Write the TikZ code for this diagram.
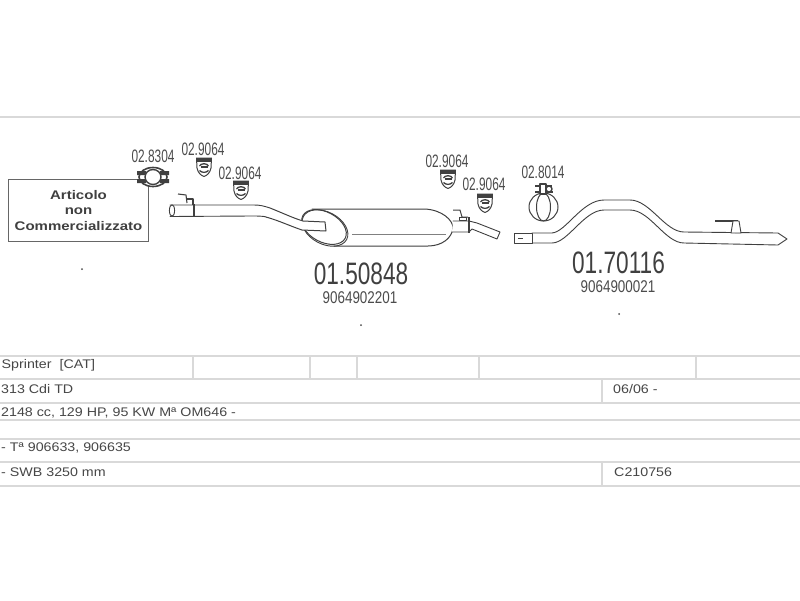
\documentclass[tikz,border=0pt]{standalone}
\usepackage{fontspec}
\setmainfont{Liberation Sans}
\definecolor{ink}{gray}{0.25}
\definecolor{rulec}{gray}{0.85}
\tikzset{
  tbl/.style={draw=rulec,line width=1.4pt},
  pipe/.style={draw=ink,line width=0.9pt,line join=round,line cap=round,fill=white},
  thin part/.style={draw=ink,line width=0.8pt,line join=round},
  ref/.style={inner sep=0pt,text=black!70,font=\fontsize{18}{18}\selectfont,xscale=.66,transform shape},
  code/.style={inner sep=0pt,text=black!75,font=\fontsize{31}{31}\selectfont,xscale=.73,transform shape},
  oem/.style={inner sep=0pt,text=black!70,font=\fontsize{17}{17}\selectfont,xscale=.79,transform shape},
  cell/.style={inner sep=0pt,anchor=west,text=black!72,font=\fontsize{12.5}{12.5}\selectfont,xscale=1.14,transform shape},
  mount/.pic={
    \draw[thin part,fill=white,line width=1pt] (-7.5,-9) -- (7.5,-9) -- (7,1) .. controls (6,6) and (3,8.5) .. (0,9.5) .. controls (-3,8.5) and (-6,6) .. (-7,1) -- cycle;
    \fill[ink] (-7.5,-9) rectangle (7.5,-5.5);
    \draw[ink,line width=1.3pt] (-4.5,-1) .. controls (-3,-4) and (3,-4) .. (4.5,-1);
    \draw[ink,line width=1.3pt] (-4.5,3.5) .. controls (-2,6) and (2,6) .. (4.5,3.5);
    \fill[ink] (-3.5,-1.5) rectangle (3.5,1);
  }
}
\newcommand{\boxline}[1]{\scalebox{1.2}[1]{\textbf{#1}}}
\begin{document}
\begin{tikzpicture}[x=1pt,y=-1pt]
\useasboundingbox (0,0) rectangle (800,600);
\fill[white] (0,0) rectangle (800,600);
% rules
\draw[tbl] (0,117) -- (800,117);
\foreach \yy in {356,379,403,420,439,462,486}{\draw[tbl] (0,\yy) -- (800,\yy);}
\foreach \xx in {193,310,357,479,696}{\draw[tbl] (\xx,356) -- (\xx,379);}
\draw[tbl] (602,379) -- (602,403);
\draw[tbl] (602,462) -- (602,486);
% table text
\node[cell] (t1) at (1.5,365) {Sprinter\hspace{7pt}[CAT]};
\node[cell] (t2) at (1,389) {313 Cdi TD};
\node[cell] (t3) at (1,413) {2148 cc, 129 HP, 95 KW Mª OM646 -};
\node[cell] (t4) at (1,448) {- Tª 906633, 906635};
\node[cell] (t5) at (1,472) {- SWB 3250 mm};
\node[cell] (t6) at (613,389) {06/06 -};
\node[cell] (t7) at (614,472) {C210756};
% box
\node[draw=black!60,line width=1pt,minimum width=140pt,minimum height=62pt,inner sep=0pt,anchor=north west,
  align=center,font=\fontsize{12.5}{15.5}\selectfont,text=black!75] (box) at (8,179)
  {\boxline{Articolo}\\\boxline{non}\\\boxline{Commercializzato}};
% first pipe
\draw[pipe] (270,208) .. controls (264,206) and (260,205) .. (254,205) -- (170,205);
\draw[pipe,fill=none] (170,216.5) -- (252,216) .. controls (258,216) and (262,216) .. (267,217);
\draw[pipe] (172,210.5) ellipse (2.6 and 5.8);
\draw[thin part,line width=1.3pt] (194,204) -- (194,217);
\draw[thin part,line width=1.1pt] (178,194) -- (186,195) -- (187,203);
\draw[thin part,line width=1.1pt] (187,199) -- (193,199) -- (193,205);
% muffler
\draw[pipe,line width=1pt] (312,209) -- (425,209) .. controls (442,210) and (453,220) .. (453,228)
  .. controls (452,238) and (442,246) .. (428,246) -- (334,246);
\draw[pipe,line width=1pt,rotate around={-28:(324,227)}] (324,227) ellipse (24 and 15);
\draw[draw=ink,line width=.9pt,rotate around={-28:(325,228)}] (325,228) ellipse (24.5 and 16);
\draw[pipe,line width=1pt] (270,208) .. controls (285,214) and (293,218) .. (303,221) -- (325,222) -- (326,231) -- (302,230) .. controls (290,226) and (280,221) .. (266,217);
\draw[draw=black!50,line width=1pt] (352,234) -- (446,234);
% tail of first section
\draw[pipe] (453,221) -- (469,221) -- (477,223) -- (500,232) -- (497,239) -- (472,229) -- (469,232) -- (452,232);
\draw[thin part,line width=1.3pt] (469,217) -- (469,233);
\draw[thin part,line width=1pt] (453,210) -- (460,210) -- (462,217) -- (468,217);
\draw[thin part,fill=white,line width=.8pt] (459,217) rectangle (466,220);
% tailpipe
\draw[pipe] (532,233) -- (552,233) .. controls (566,232) and (582,200) .. (604,200) -- (630,200)
  .. controls (650,200) and (665,232) .. (684,232) -- (778,233) -- (787,239) -- (778,245) -- (684,243)
  .. controls (665,243) and (650,210) .. (630,210) -- (604,210) .. controls (584,210) and (568,243) .. (552,243) -- (532,243);
\draw[pipe] (514,233) rectangle (532,243);
\draw[thin part] (518,238) -- (523,238);
\draw[thin part,line width=1.1pt] (715,221) -- (738,221);
\draw[pipe,fill=white] (733,221) -- (739,221) -- (741,233) -- (731,233) -- cycle;
% clamp 02.8014
\draw[thin part,line width=1pt] (543.5,207) ellipse (14.5 and 14);
\draw[thin part,line width=1pt] (543.5,207) ellipse (7 and 14);
\draw[thin part,line width=1.5pt] (535,186) -- (552,186) (535,192) -- (553,192);
\draw[thin part,fill=white,line width=1.4pt] (540,184) rectangle (546,194);
\draw[thin part,line width=1.4pt] (549,189) circle (3);
% clamp 02.8304
\draw[thin part,line width=1.6pt,fill=white] (153,177) ellipse (14 and 9.5);
\draw[thin part,line width=1.4pt,fill=white] (153,177) ellipse (8 and 7.5);
\fill[ink] (137,171) rectangle (146,175) (160,171) rectangle (169,175) (137,179) rectangle (146,183) (160,179) rectangle (169,183);
% insulators
\pic at (204,167) {mount};
\pic at (241,190) {mount};
\pic at (448,179) {mount};
\pic at (485,203) {mount};
% labels
\node[ref] (r1) at (153,156) {02.8304};
\node[ref] (r2) at (203,149) {02.9064};
\node[ref] (r3) at (240,173) {02.9064};
\node[ref] (r4) at (447,161) {02.9064};
\node[ref] (r5) at (484,184) {02.9064};
\node[ref] (r6) at (543,172) {02.8014};
\node[code] (c1) at (361,273.5) {01.50848};
\node[oem] (o1) at (360,297.5) {9064902201};
\node[code] (c2) at (618.5,262.5) {01.70116};
\node[oem] (o2) at (618,286.5) {9064900021};
% dots
\fill[black!70] (82,269) circle (1);
\fill[black!70] (361,325) circle (1);
\fill[black!70] (619,314) circle (1);
\end{tikzpicture}
\end{document}
